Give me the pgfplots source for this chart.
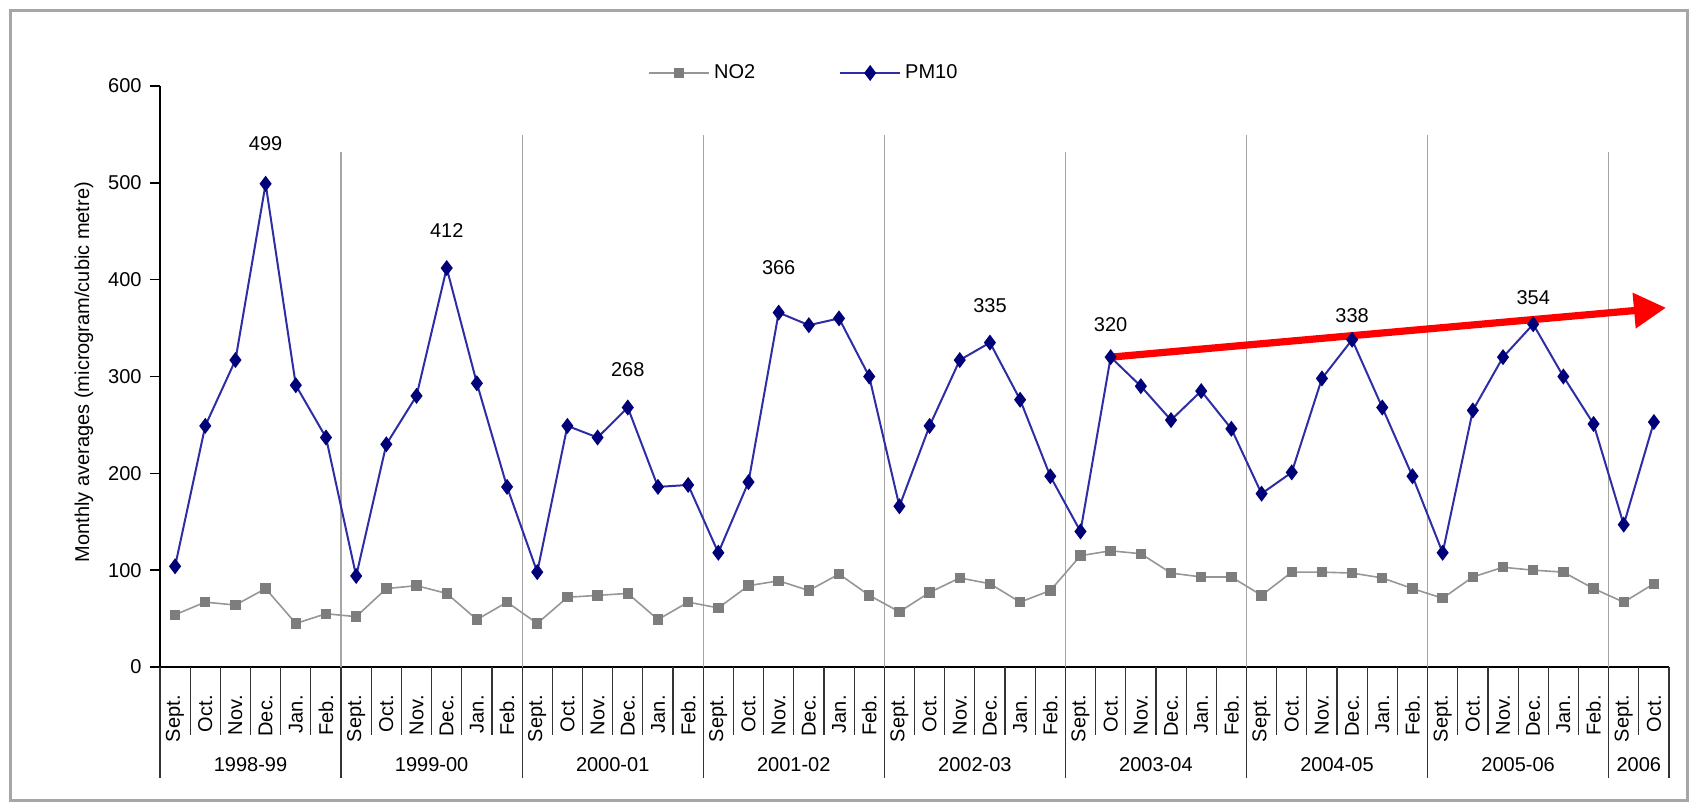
\documentclass[border=0pt]{standalone}
\usepackage{fontspec}
\setmainfont{Liberation Sans}
\usepackage{pgfplots}
\pgfplotsset{compat=1.18}
\usetikzlibrary{arrows.meta}
\definecolor{pmline}{RGB}{45,45,165}
\definecolor{pmmark}{RGB}{0,0,120}
\definecolor{noline}{RGB}{150,150,150}
\definecolor{nomark}{RGB}{125,125,125}
\definecolor{sepcol}{RGB}{165,165,165}

\pgfplotstableread{
idx no2 pm10
0 54 104
1 67 249
2 64 317
3 81 499
4 45 291
5 55 237
6 52 94
7 81 230
8 84 280
9 76 412
10 49 293
11 67 186
12 45 98
13 72 249
14 74 237
15 76 268
16 49 186
17 67 188
18 61 118
19 84 191
20 89 366
21 79 353
22 96 360
23 74 300
24 57 166
25 77 249
26 92 317
27 86 335
28 67 276
29 79 197
30 115 140
31 120 320
32 117 290
33 97 255
34 93 285
35 93 246
36 74 179
37 98 201
38 98 298
39 97 338
40 92 268
41 81 197
42 71 118
43 93 265
44 103 320
45 100 354
46 98 300
47 81 251
48 67 147
49 86 253
}\datatable

\begin{document}
\begin{tikzpicture}
\path[use as bounding box] (-80pt,-69pt) rectangle (768pt,333.5pt);
\draw[gray!70, line width=1.5pt] (-74.5pt,-66.5pt) rectangle (763.5pt,328pt);
\begin{axis}[
  at={(0,0)}, anchor=south west, scale only axis,
  width=754.5pt, height=290.5pt,
  xmin=-0.5, xmax=49.5, ymin=0, ymax=600,
  axis x line*=bottom, axis y line*=left,
  axis line style={-, black, line width=0.8pt},
  clip=false,
  ytick={0,100,...,600},
  xtick={0,...,49},
  xticklabels={Sept.,Oct.,Nov.,Dec.,Jan.,Feb.,Sept.,Oct.,Nov.,Dec.,Jan.,Feb.,Sept.,Oct.,Nov.,Dec.,Jan.,Feb.,Sept.,Oct.,Nov.,Dec.,Jan.,Feb.,Sept.,Oct.,Nov.,Dec.,Jan.,Feb.,Sept.,Oct.,Nov.,Dec.,Jan.,Feb.,Sept.,Oct.,Nov.,Dec.,Jan.,Feb.,Sept.,Oct.,Nov.,Dec.,Jan.,Feb.,Sept.,Oct.},
  xtick style={draw=none},
  ytick style={black, line width=0.8pt},
  tick align=outside,
  major tick length=5pt,
  xticklabel style={yshift=-9pt, rotate=90, anchor=east, inner sep=0pt},
  yticklabel style={inner sep=0pt, xshift=-4pt},
  /pgf/number format/assume math mode=true,
  legend columns=2,
  legend style={at={(axis description cs:0.4274,1.0224)}, anchor=center, draw=none, fill=none,
    /tikz/every even column/.append style={column sep=40pt}},
  legend image code/.code={\draw[mark repeat=2, mark phase=2] plot coordinates {(0pt,0pt) (15pt,0pt) (30pt,0pt)};},
]
% season separators inside plot
\draw[sepcol, line width=0.6pt] (axis cs:5.5,0) -- (axis cs:5.5,532);
\draw[sepcol, line width=0.6pt] (axis cs:11.5,0) -- (axis cs:11.5,549);
\draw[sepcol, line width=0.6pt] (axis cs:17.5,0) -- (axis cs:17.5,549);
\draw[sepcol, line width=0.6pt] (axis cs:23.5,0) -- (axis cs:23.5,549);
\draw[sepcol, line width=0.6pt] (axis cs:29.5,0) -- (axis cs:29.5,532);
\draw[sepcol, line width=0.6pt] (axis cs:35.5,0) -- (axis cs:35.5,549);
\draw[sepcol, line width=0.6pt] (axis cs:41.5,0) -- (axis cs:41.5,549);
\draw[sepcol, line width=0.6pt] (axis cs:47.5,0) -- (axis cs:47.5,532);

\addplot[noline, line width=0.8pt, mark=square*, mark size=2.2pt, mark options={nomark, fill=nomark}] table[x=idx, y=no2] {\datatable};
\addlegendentry{NO2}
\addplot[pmline, line width=1pt, mark=diamond*, mark size=3.2pt, mark options={pmmark, fill=pmmark}] table[x=idx, y=pm10] {\datatable};
\addlegendentry{PM10}

% month separators below axis
\pgfplotsinvokeforeach{-0.5,0.5,1.5,2.5,3.5,4.5,5.5,6.5,7.5,8.5,9.5,10.5,11.5,12.5,13.5,14.5,15.5,16.5,17.5,18.5,19.5,20.5,21.5,22.5,23.5,24.5,25.5,26.5,27.5,28.5,29.5,30.5,31.5,32.5,33.5,34.5,35.5,36.5,37.5,38.5,39.5,40.5,41.5,42.5,43.5,44.5,45.5,46.5,47.5,48.5,49.5}{
  \draw[black!80, line width=0.6pt] (axis cs:#1,0) -- ++(0pt,-34pt);
}
\pgfplotsinvokeforeach{-0.5,5.5,11.5,17.5,23.5,29.5,35.5,41.5,47.5,49.5}{
  \draw[black!80, line width=0.6pt] (axis cs:#1,0) -- ++(0pt,-55.5pt);
}
% year labels
\node[yshift=-49pt] at (axis cs:2.5,0) {1998-99};
\node[yshift=-49pt] at (axis cs:8.5,0) {1999-00};
\node[yshift=-49pt] at (axis cs:14.5,0) {2000-01};
\node[yshift=-49pt] at (axis cs:20.5,0) {2001-02};
\node[yshift=-49pt] at (axis cs:26.5,0) {2002-03};
\node[yshift=-49pt] at (axis cs:32.5,0) {2003-04};
\node[yshift=-49pt] at (axis cs:38.5,0) {2004-05};
\node[yshift=-49pt] at (axis cs:44.5,0) {2005-06};
\node[yshift=-49pt] at (axis cs:48.5,0) {2006};

% red trend arrow
\draw[red, line width=3.6pt, -{Triangle[length=16pt,width=17pt]}] (axis cs:31,320) -- (axis cs:49.4,371);

% data labels
\node at (axis cs:3,540) {499};
\node at (axis cs:9,451) {412};
\node at (axis cs:15,307) {268};
\node at (axis cs:20,412) {366};
\node at (axis cs:27,373) {335};
\node at (axis cs:31,354) {320};
\node at (axis cs:39,363) {338};
\node at (axis cs:45,381) {354};
\end{axis}
\node[rotate=90] at (-38pt,147.5pt) {Monthly averages (microgram/cubic metre)};
\end{tikzpicture}
\end{document}
